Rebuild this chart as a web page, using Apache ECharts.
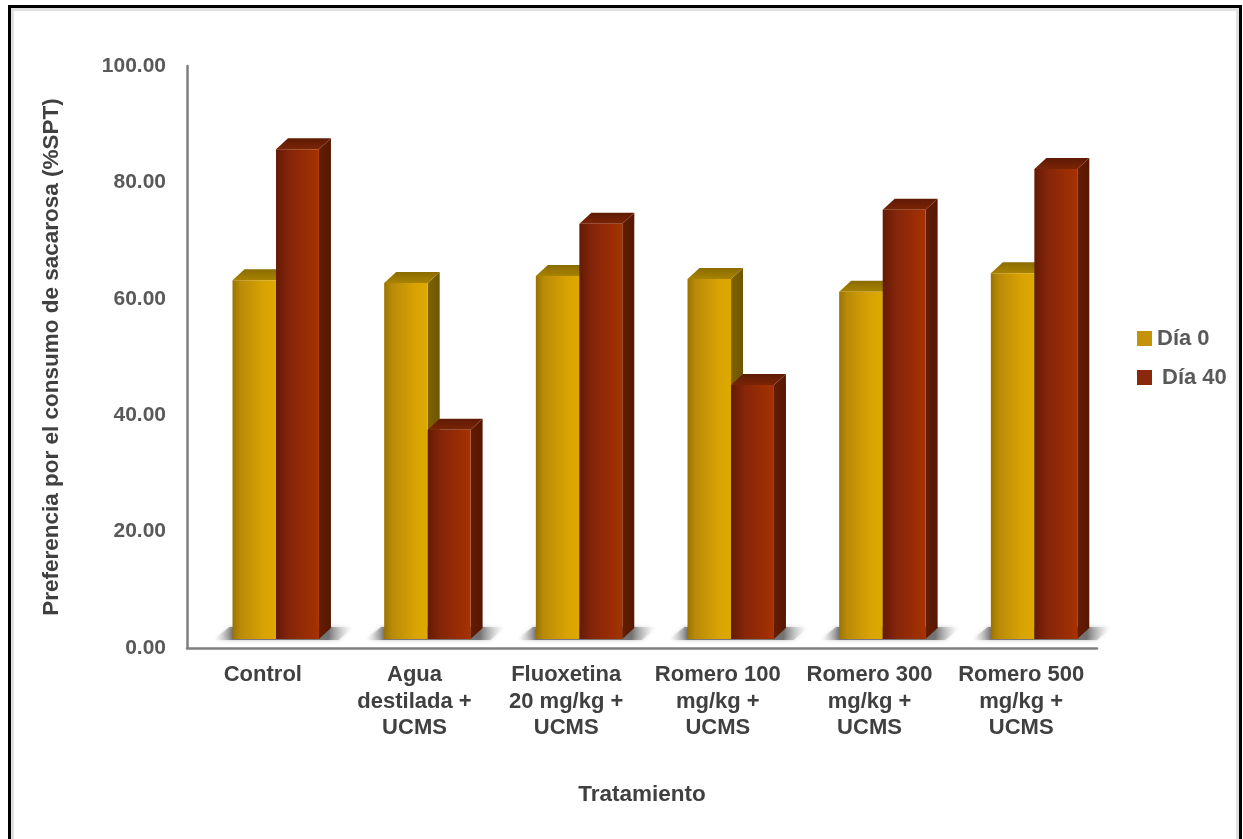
<!DOCTYPE html>
<html>
<head>
<meta charset="utf-8">
<script src="https://cdn.jsdelivr.net/npm/echarts@6/dist/echarts.min.js"></script>
<style>
  html, body { margin: 0; padding: 0; background: #ffffff; }
  #chart { width: 1243px; height: 839px; }
</style>
</head>
<body>
<div id="chart"></div>
<script>
// Sucrose preference test (%SPT) per treatment, day 0 vs day 40
const categories = [
  'Control',
  'Agua\ndestilada +\nUCMS',
  'Fluoxetina\n20 mg/kg +\nUCMS',
  'Romero 100\nmg/kg +\nUCMS',
  'Romero 300\nmg/kg +\nUCMS',
  'Romero 500\nmg/kg +\nUCMS'
];
const dia0 = [63.2, 62.7, 63.9, 63.4, 61.2, 64.4];
const dia40 = [85.7, 37.5, 72.9, 45.2, 75.3, 82.3];
const yTicks = { min: 0, max: 100, interval: 20 };

const FONT = '"Liberation Sans", Arial, sans-serif';

// 3D column look: front face, right side face and top face
const DEPTH_X = 12, DEPTH_Y = 11, FLOOR_LIFT = 9;

const palettes = [
  {
    front: [[0, '#9a7400'], [0.18, '#b98a08'], [0.7, '#d8a202'], [1, '#dea900']],
    side: [[0, '#806300'], [1, '#6e5500']],
    top: [[0, '#8a6b00'], [1, '#a88300']]
  },
  {
    front: [[0, '#641a05'], [0.3, '#84250a'], [1, '#a63200']],
    side: [[0, '#641d02'], [1, '#561700']],
    top: [[0, '#5f1a04'], [1, '#7a2406']]
  }
];

function grad(stops, horizontal) {
  return {
    type: 'linear', x: 0, y: 0, x2: horizontal ? 1 : 0, y2: horizontal ? 0 : 1,
    colorStops: stops.map(s => ({ offset: s[0], color: s[1] }))
  };
}

function makeRender(seriesIdx) {
  const pal = palettes[seriesIdx];
  return function (params, api) {
    const cat = api.value(0);
    const val = api.value(1);
    const band = api.size([1, 0])[0];
    const c = api.coord([cat, 0])[0];
    const base = api.coord([cat, 0])[1] - FLOOR_LIFT;
    const yt = api.coord([cat, val])[1];
    // bar pair placement inside the band
    const x0 = seriesIdx === 0 ? c - band * 0.2 : c + band * 0.087;
    const x1 = seriesIdx === 0 ? c + band * 0.087 : c + band * 0.37;
    const children = [];
    if (seriesIdx === 0) {
      // soft floor shadow behind the pair
      children.push({
        type: 'polygon',
        shape: { points: [[c - band * 0.33, base + 1], [c - band * 0.22, base - DEPTH_Y - 1],
                          [c + band * 0.6, base - DEPTH_Y - 1], [c + band * 0.5, base + 1]] },
        style: {
          fill: grad([[0, 'rgba(255,255,255,0)'], [0.14, 'rgba(95,95,95,0.8)'],
                      [0.82, 'rgba(95,95,95,0.8)'], [1, 'rgba(255,255,255,0)']], true),
          shadowBlur: 4, shadowColor: 'rgba(120,120,120,0.6)'
        },
        z2: 0
      });
    }
    children.push({
      type: 'polygon',
      shape: { points: [[x1, yt], [x1 + DEPTH_X, yt - DEPTH_Y], [x1 + DEPTH_X, base - DEPTH_Y], [x1, base]] },
      style: { fill: grad(pal.side, true) }
    });
    children.push({
      type: 'polygon',
      shape: { points: [[x0, yt], [x0 + DEPTH_X, yt - DEPTH_Y], [x1 + DEPTH_X, yt - DEPTH_Y], [x1, yt]] },
      style: { fill: grad(pal.top, false) }
    });
    children.push({
      type: 'rect',
      shape: { x: x0, y: yt, width: x1 - x0, height: base - yt },
      style: { fill: grad(pal.front, true) }
    });
    return { type: 'group', children: children };
  };
}

const chart = echarts.init(document.getElementById('chart'));
chart.setOption({
  backgroundColor: '#ffffff',
  animation: false,
  graphic: [
    {
      type: 'rect', z: 100,
      shape: { x: 12, y: 9, width: 1226, height: 840 },
      style: { fill: 'none', stroke: 'rgba(0,0,0,0.12)', lineWidth: 4 }
    },
    {
      type: 'rect', z: 101,
      shape: { x: 9.5, y: 6.5, width: 1231, height: 845 },
      style: { fill: 'none', stroke: '#000000', lineWidth: 3 }
    }
  ],
  grid: { left: 187, right: 146, top: 66, bottom: 191 },
  legend: {
    orient: 'vertical',
    left: 1132,
    top: 322,
    itemWidth: 15,
    itemHeight: 15,
    itemGap: 16,
    icon: 'rect',
    textStyle: { fontFamily: FONT, fontWeight: 'bold', fontSize: 22, color: '#595959', lineHeight: 23 },
    data: [
      { name: 'Día 0' },
      { name: 'Día 40', textStyle: { padding: [0, 0, 0, 5] } }
    ]
  },
  xAxis: {
    type: 'category',
    data: categories,
    name: 'Tratamiento',
    nameLocation: 'middle',
    nameGap: 135,
    nameTextStyle: { fontFamily: FONT, fontWeight: 'bold', fontSize: 22.5, color: '#404040', verticalAlign: 'top' },
    axisLine: { lineStyle: { color: '#7f7f7f', width: 2.5 } },
    axisTick: { show: false },
    axisLabel: {
      interval: 0, margin: 14,
      fontFamily: FONT, fontWeight: 'bold', fontSize: 22, lineHeight: 26.5, color: '#404040'
    }
  },
  yAxis: {
    type: 'value',
    min: yTicks.min, max: yTicks.max, interval: yTicks.interval,
    name: 'Preferencia por el consumo de sacarosa (%SPT)',
    nameLocation: 'middle',
    nameRotate: 90,
    nameGap: 124,
    nameTextStyle: { fontFamily: FONT, fontWeight: 'bold', fontSize: 22.5, color: '#404040' },
    axisLine: { show: true, lineStyle: { color: '#7f7f7f', width: 2.5 } },
    axisTick: { show: false },
    splitLine: { show: false },
    axisLabel: {
      margin: 21,
      fontFamily: FONT, fontWeight: 'bold', fontSize: 21, color: '#595959',
      formatter: v => v.toFixed(2)
    }
  },
  series: [
    {
      name: 'Día 0', type: 'custom', renderItem: makeRender(0),
      itemStyle: { color: '#c4930a' },
      encode: { x: 0, y: 1 },
      data: dia0.map((v, i) => [i, v]), z: 2
    },
    {
      name: 'Día 40', type: 'custom', renderItem: makeRender(1),
      itemStyle: { color: '#8a280b' },
      encode: { x: 0, y: 1 },
      data: dia40.map((v, i) => [i, v]), z: 3
    }
  ]
});
</script>
</body>
</html>
